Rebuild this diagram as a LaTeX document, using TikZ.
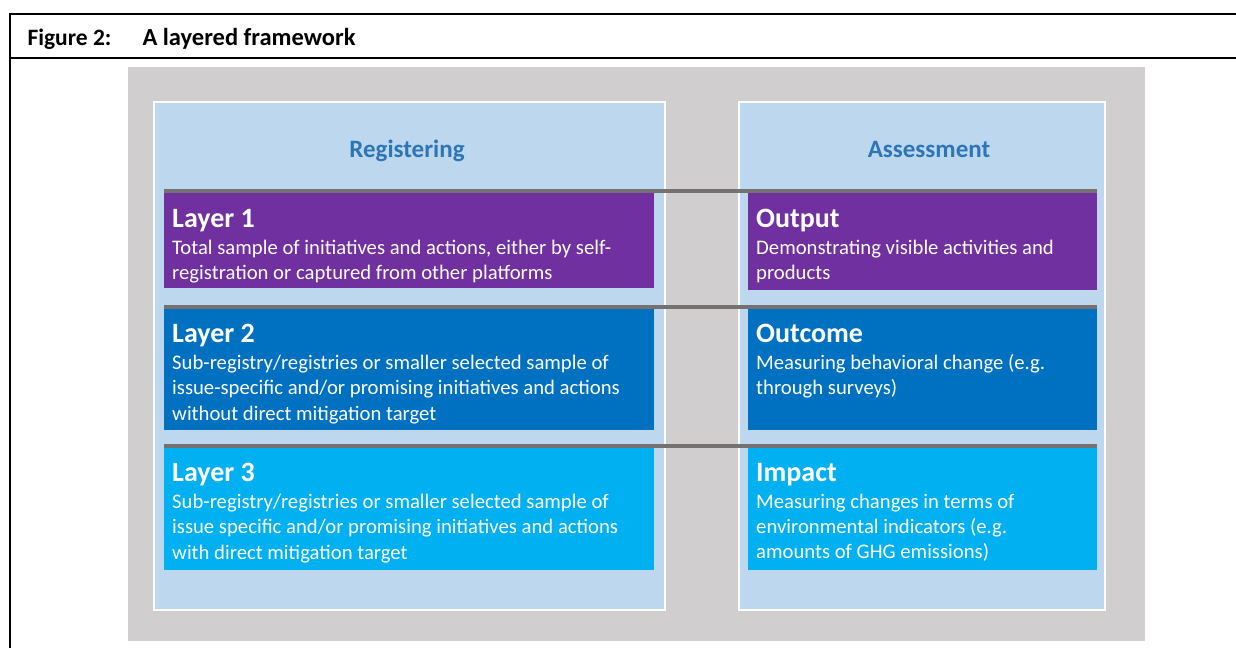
\documentclass[tikz,border=0pt]{standalone}
\usepackage{fontspec}
\setmainfont{Carlito}
\usetikzlibrary{positioning}

\definecolor{bggray}{HTML}{D0CECE}
\definecolor{panelblue}{HTML}{BDD7EE}
\definecolor{lpurple}{HTML}{7030A0}
\definecolor{lblue}{HTML}{0070C0}
\definecolor{lcyan}{HTML}{00B0F0}
\definecolor{sepgray}{HTML}{767171}
\definecolor{headblue}{HTML}{2E75B6}

\newcommand{\bodyfont}{\fontsize{20.7}{25.2}\selectfont}
\newcommand{\headfont}{\fontsize{28}{32}\selectfont\bfseries}

\tikzset{
  panel/.style={draw=white, line width=1.5pt, fill=panelblue},
  layerbox/.style={rectangle, inner sep=0pt, anchor=north west},
  boxtext/.style={anchor=north west, inner sep=0pt, align=left, text=white, font=\bodyfont},
  colhead/.style={anchor=base, text=headblue, font=\fontsize{25}{30}\selectfont\bfseries},
  sepline/.style={draw=sepgray, line width=4pt},
}

\begin{document}
\begin{tikzpicture}[x=1pt,y=-1pt]
	\useasboundingbox (0,0) rectangle (1236,648);

	% frame and title
	\draw[line width=2pt] (10,648) -- (10,14) -- (1236,14);
	\draw[line width=2pt] (10,58) -- (1236,58);
	\node[anchor=base west, font=\fontsize{23.5}{28}\selectfont\bfseries] (fig) at (24,45) {Figure 2:};
	\node[anchor=base west, font=\fontsize{24.5}{28}\selectfont\bfseries] (title) at (139,45) {A layered framework};

	% background and panels
	\fill[bggray] (128,67) rectangle (1145,641);
	\draw[panel] (154,102) rectangle (665,610);
	\draw[panel] (739,102) rectangle (1105,610);
	\node[colhead] (reg) at (407,157) {Registering};
	\node[colhead] (ass) at (929,157) {Assessment};

	% boxes
	\node[layerbox, fill=lpurple, minimum width=490pt, minimum height=95pt] (lay1) at (164,193) {};
	\node[layerbox, fill=lblue, minimum width=490pt, minimum height=121pt] (lay2) at (164,309) {};
	\node[layerbox, fill=lcyan, minimum width=490pt, minimum height=122pt] (lay3) at (164,448) {};
	\node[layerbox, fill=lpurple, minimum width=349pt, minimum height=97pt] (out1) at (748,193) {};
	\node[layerbox, fill=lblue, minimum width=349pt, minimum height=121pt] (out2) at (748,309) {};
	\node[layerbox, fill=lcyan, minimum width=349pt, minimum height=122pt] (out3) at (748,448) {};

	% separators
	\draw[sepline] ([yshift=2pt]lay1.north west) -- ([yshift=2pt]out1.north east);
	\draw[sepline] ([yshift=2pt]lay2.north west) -- ([yshift=2pt]out2.north east);
	\draw[sepline] ([yshift=2pt]lay3.north west) -- ([yshift=2pt]out3.north east);

	% texts
	\node[boxtext] (lay1t) at ([xshift=8pt,yshift=-16pt]lay1.north west)
		{{\headfont Layer 1}\\[2pt]
		Total sample of initiatives and actions, either by self-\\
		registration or captured from other platforms};
	\node[boxtext] (lay2t) at ([xshift=8pt,yshift=-15pt]lay2.north west)
		{{\headfont Layer 2}\\[2pt]
		Sub-registry/registries or smaller selected sample of\\
		issue-specific and/or promising initiatives and actions\\
		without direct mitigation target};
	\node[boxtext] (lay3t) at ([xshift=8pt,yshift=-15pt]lay3.north west)
		{{\headfont Layer 3}\\[2pt]
		Sub-registry/registries or smaller selected sample of\\
		issue specific and/or promising initiatives and actions\\
		with direct mitigation target};
	\node[boxtext] (out1t) at ([xshift=8pt,yshift=-16pt]out1.north west)
		{{\headfont Output}\\[2pt]
		Demonstrating visible activities and\\
		products};
	\node[boxtext] (out2t) at ([xshift=8pt,yshift=-15pt]out2.north west)
		{{\headfont Outcome}\\[2pt]
		Measuring behavioral change (e.g.\\
		through surveys)};
	\node[boxtext] (out3t) at ([xshift=8pt,yshift=-15pt]out3.north west)
		{{\headfont Impact}\\[2pt]
		Measuring changes in terms of\\
		environmental indicators (e.g.\\
		amounts of GHG emissions)};
\end{tikzpicture}
\end{document}
